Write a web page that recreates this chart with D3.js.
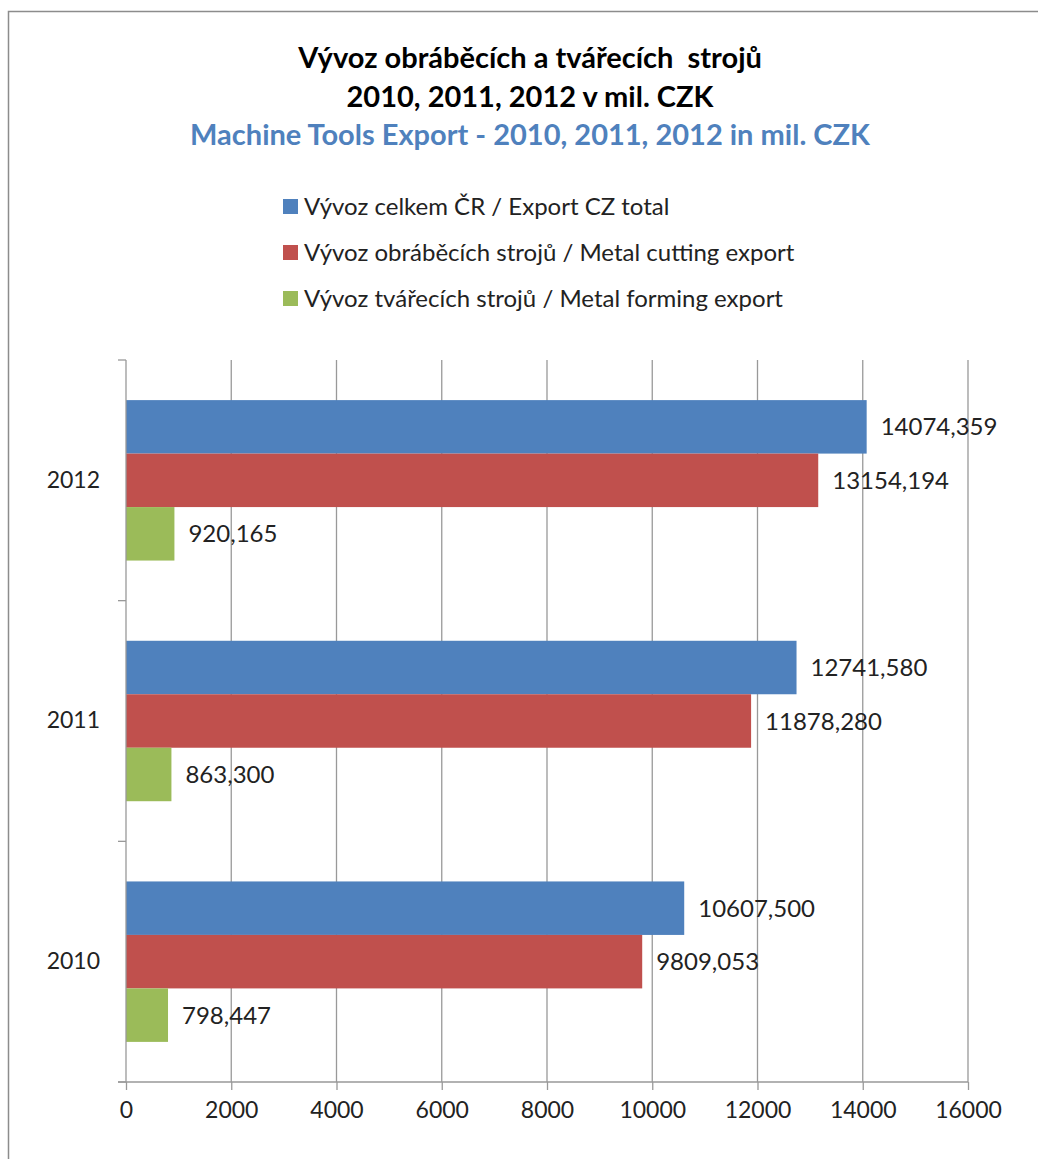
<!DOCTYPE html>
<html lang="cs">
<head>
<title>Vývoz obráběcích a tvářecích strojů</title>
<meta charset="utf-8">
<script src="https://d3js.org/d3.v7.min.js"></script>
<style>
  body { margin: 0; background: #fff; }
  text { font-family: Lato, "Open Sans", sans-serif; }
</style>
</head>
<body>
<div id="chart"></div>

<script type="text/javascript">
	// data
	var years = ['2012', '2011', '2010'];
	var seriesNames = ['Vývoz celkem ČR / Export CZ total',
		'Vývoz obráběcích strojů / Metal cutting export',
		'Vývoz tvářecích strojů / Metal forming export'];
	var seriesColors = ['#4f81bd', '#c0504d', '#9bbb59'];
	var totalExport = [14074.359, 12741.580, 10607.500];
	var cuttingExport = [13154.194, 11878.280, 9809.053];
	var formingExport = [920.165, 863.300, 798.447];
	var xTicks = [0, 2000, 4000, 6000, 8000, 10000, 12000, 14000, 16000];
	var titleLines = ['Vývoz obráběcích a tvářecích  strojů', '2010, 2011, 2012 v mil. CZK'];
	var subTitle = 'Machine Tools Export - 2010, 2011, 2012 in mil. CZK';

	var series = [totalExport, cuttingExport, formingExport];

	var W = 1038, H = 1159;
	var plot = {left: 126, right: 968, top: 360, bottom: 1082};

	var svg = d3.select('#chart').append('svg')
		.attr('width', W)
		.attr('height', H);

	// outer frame
	svg.append('rect')
		.attr('x', 8.5).attr('y', 11.5)
		.attr('width', W + 20).attr('height', H + 20)
		.attr('fill', 'none')
		.attr('stroke', '#8c8c8c')
		.attr('stroke-width', 1.5);

	// titles
	svg.selectAll('.title')
		.data(titleLines)
		.enter().append('text')
		.attr('class', 'title')
		.attr('x', 530)
		.attr('y', function(d, i) { return 68 + i * 39; })
		.attr('text-anchor', 'middle')
		.style('font-size', '29px')
		.style('font-weight', 'bold')
		.style('fill', '#000')
		.style('white-space', 'pre')
		.text(function(d) { return d; });

	svg.append('text')
		.attr('x', 530)
		.attr('y', 145)
		.attr('text-anchor', 'middle')
		.style('font-size', '29px')
		.style('font-weight', 'bold')
		.style('fill', '#4f81bd')
		.text(subTitle);

	// legend
	var legend = svg.selectAll('.legend')
		.data(seriesNames)
		.enter().append('g')
		.attr('class', 'legend')
		.attr('transform', function(d, i) { return 'translate(283,' + (206.5 + i * 46) + ')'; });
	legend.append('rect')
		.attr('x', 0).attr('y', -7.5)
		.attr('width', 15).attr('height', 15)
		.attr('fill', function(d, i) { return seriesColors[i]; });
	legend.append('text')
		.attr('x', 21).attr('y', 8.5)
		.style('font-size', '24px')
		.style('fill', '#222')
		.text(function(d) { return d; });

	// scales
	var x = d3.scaleLinear()
		.domain([0, 16000])
		.range([plot.left, plot.right]);
	var y0 = d3.scaleBand()
		.domain(years)
		.range([plot.top, plot.bottom]);
	var y1 = d3.scaleBand()
		.domain(d3.range(series.length))
		.range([y0.bandwidth() / 6, y0.bandwidth() * 5 / 6]);

	// gridlines
	svg.append('g')
		.selectAll('line')
		.data(xTicks.slice(1))
		.enter().append('line')
		.attr('x1', function(d) { return x(d); })
		.attr('x2', function(d) { return x(d); })
		.attr('y1', plot.top)
		.attr('y2', plot.bottom)
		.attr('stroke', '#999')
		.attr('stroke-width', 1.3);

	// bars
	var groups = svg.append('g').selectAll('g')
		.data(years)
		.enter().append('g')
		.attr('transform', function(d) { return 'translate(0,' + y0(d) + ')'; });

	var fmt = d3.format('.3f');
	groups.each(function(year, yi) {
		var g = d3.select(this);
		var vals = series.map(function(s) { return s[yi]; });
		g.selectAll('rect')
			.data(vals)
			.enter().append('rect')
			.attr('x', x(0))
			.attr('y', function(d, i) { return y1(i); })
			.attr('width', function(d) { return x(d) - x(0); })
			.attr('height', y1.bandwidth())
			.attr('fill', function(d, i) { return seriesColors[i]; });
		g.selectAll('text')
			.data(vals)
			.enter().append('text')
			.attr('x', function(d) { return x(d) + 14; })
			.attr('y', function(d, i) { return y1(i) + y1.bandwidth() / 2; })
			.attr('dy', '0.36em')
			.style('font-size', '24px')
			.style('fill', '#222')
			.text(function(d) { return fmt(d).replace('.', ','); });
	});

	// axes
	var xAxis = d3.axisBottom(x)
		.tickValues(xTicks)
		.tickSize(8)
		.tickSizeOuter(0)
		.tickPadding(12)
		.tickFormat(d3.format('d'));
	var gx = svg.append('g')
		.attr('transform', 'translate(0,' + plot.bottom + ')')
		.call(xAxis);
	gx.select('.domain').remove();
	gx.append('line')
		.attr('x1', plot.left - 8).attr('x2', plot.right)
		.attr('stroke', '#999').attr('stroke-width', 1.3);
	gx.selectAll('.tick line').attr('stroke', '#999').attr('stroke-width', 1.3);
	gx.selectAll('.tick text')
		.style('font-size', '23px')
		.style('font-family', 'Lato, sans-serif')
		.style('fill', '#222');

	var yAxis = d3.axisLeft(y0)
		.tickSize(0)
		.tickPadding(26);
	var gy = svg.append('g')
		.attr('transform', 'translate(' + plot.left + ',0)')
		.call(yAxis);
	gy.select('.domain').remove();
	gy.selectAll('.tick text')
		.style('font-size', '23px')
		.style('font-family', 'Lato, sans-serif')
		.style('fill', '#222');
	gy.append('line')
		.attr('y1', plot.top).attr('y2', plot.bottom)
		.attr('stroke', '#999').attr('stroke-width', 1.3);
	// category separators
	gy.selectAll('.sep')
		.data(years.map(function(d) { return y0(d); }).concat([plot.bottom]))
		.enter().append('line')
		.attr('x1', -8).attr('x2', 0)
		.attr('y1', function(d) { return d; })
		.attr('y2', function(d) { return d; })
		.attr('stroke', '#999').attr('stroke-width', 1.3);
</script>

</body>
</html>
